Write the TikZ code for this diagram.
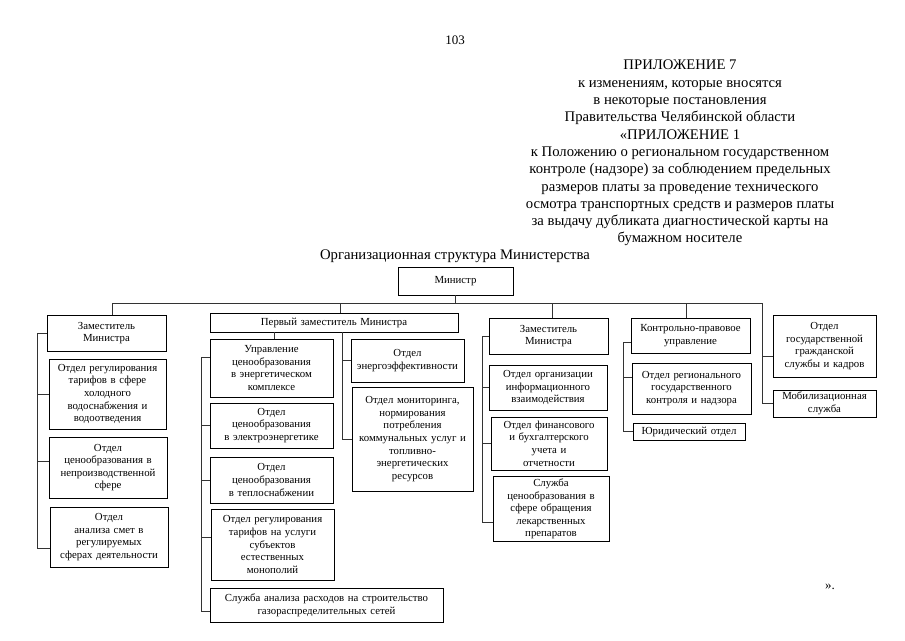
\documentclass[tikz,border=0pt]{standalone}
\usepackage{fontspec}
\setmainfont{Liberation Serif}
\usetikzlibrary{calc}
\tikzset{
  box/.style={draw=black, line width=0.7pt, align=center, inner sep=2pt, font=\fontsize{10.8}{12.6}\selectfont},
  conn/.style={draw=black!80, line width=0.6pt},
  head/.style={align=center, inner sep=0pt, font=\fontsize{14.7}{17.3}\selectfont},
}
\newcommand{\bx}[6]{%
  \pgfmathsetmacro\bxW{#4-#2}\pgfmathsetmacro\bxH{#5-#3}\pgfmathsetmacro\bxT{#4-#2-5}%
  \pgfmathsetmacro\bxX{(#2+#4)/2}\pgfmathsetmacro\bxY{(#3+#5)/2}%
  \node[box, minimum width=\bxW pt, minimum height=\bxH pt, text width=\bxT pt] (#1) at (\bxX,\bxY) {#6};}
\begin{document}
\begin{tikzpicture}[x=1pt,y=-1pt]
\fill[white] (0,0) rectangle (905,640);
\useasboundingbox (0,0) rectangle (905,640);

\node[head, font=\fontsize{13}{15}\selectfont] (pg) at (455,40) {103};
\node[head, anchor=north] (hdr) at (680,60) {ПРИЛОЖЕНИЕ 7\\
к изменениям, которые вносятся\\
в некоторые постановления\\
Правительства Челябинской области\\
«ПРИЛОЖЕНИЕ 1\\
к Положению о региональном государственном\\
контроле (надзоре) за соблюдением предельных\\
размеров платы за проведение технического\\
осмотра транспортных средств и размеров платы\\
за выдачу дубликата диагностической карты на\\
бумажном носителе};
\node[head] (ttl) at (455,256) {Организационная структура Министерства};

\bx{min}{398}{267}{513}{295}{Министр}
\bx{dA}{47}{315}{166}{351}{Заместитель\\Министра}
\bx{a1}{49}{359}{166}{429}{Отдел регулирования\\тарифов в сфере\\холодного\\водоснабжения и\\водоотведения}
\bx{a2}{49}{437}{167}{498}{Отдел\\ценообразования в\\непроизводственной\\сфере}
\bx{a3}{50}{507}{168}{567}{Отдел\\анализа смет в\\регулируемых\\сферах деятельности}
\bx{dB}{210}{313}{458}{332}{Первый заместитель Министра}
\bx{b1}{210}{339}{333}{397}{Управление\\ценообразования\\в энергетическом\\комплексе}
\bx{b2}{210}{403}{333}{448}{Отдел\\ценообразования\\в электроэнергетике}
\bx{b3}{210}{457}{333}{503}{Отдел\\ценообразования\\в теплоснабжении}
\bx{b4}{211}{509}{334}{580}{Отдел регулирования\\тарифов на услуги\\субъектов\\естественных\\монополий}
\bx{b5}{210}{588}{443}{622}{Служба анализа расходов на строительство\\газораспределительных сетей}
\bx{c1}{351}{339}{464}{382}{Отдел\\энергоэффективности}
\bx{c2}{352}{387}{473}{491}{Отдел мониторинга,\\нормирования\\потребления\\коммунальных услуг и\\топливно-\\энергетических\\ресурсов}
\bx{dC}{489}{318}{608}{354}{Заместитель\\Министра}
\bx{e1}{489}{365}{607}{410}{Отдел организации\\информационного\\взаимодействия}
\bx{e2}{491}{417}{607}{470}{Отдел финансового\\и бухгалтерского\\учета и\\отчетности}
\bx{e3}{493}{478}{609}{540}{Служба\\ценообразования в\\сфере обращения\\лекарственных\\препаратов}
\bx{dD}{631}{318}{750}{353}{Контрольно-правовое\\управление}
\bx{f1}{632}{363}{751}{414}{Отдел регионального\\государственного\\контроля и надзора}
\bx{f2}{633}{423}{745}{440}{Юридический отдел}
\bx{g1}{773}{315}{876}{377}{Отдел\\государственной\\гражданской\\службы и кадров}
\bx{g2}{773}{390}{876}{417}{Мобилизационная\\служба}

\node[head, font=\fontsize{13}{15}\selectfont] (end) at (830,587) {».};

% bus
\coordinate (busL) at (112,303);
\coordinate (busR) at (762,303);
\coordinate (bB) at (340,303);
\coordinate (bC) at (552,303);
\coordinate (bD) at (686,303);
\draw[conn] (min.south) -- (min.south |- busL);
\draw[conn] (busL) -- (busR);
\draw[conn] (busL) -- (busL |- dA.north);
\draw[conn] (bB) -- (bB |- dB.north);
\draw[conn] (bC) -- (bC |- dC.north);
\draw[conn] (bD) -- (bD |- dD.north);
\draw[conn] (busR) |- (g2.west);
\coordinate (gy1) at (762,356);
\draw[conn] (gy1) -- (gy1 -| g1.west);

% left column
\coordinate (aL) at (37,548);
\coordinate (a2b) at (37,461);
\draw[conn] (dA.west) -| (aL) -- (aL -| a3.west);
\draw[conn] (aL |- a1.west) -- (a1.west);
\draw[conn] (a2b) -- (a2b -| a2.west);

% first deputy column
\coordinate (bL1) at (201,357);
\coordinate (bL4) at (201,537);
\coordinate (bL5) at (201,611);
\coordinate (bT) at (274,0);
\draw[conn] (bT |- dB.south) -- (bT |- b1.north);
\draw[conn] (bL1 -| b1.west) -- (bL1) -- (bL5) -- (bL5 -| b5.west);
\draw[conn] (bL1 |- b2.west) -- (b2.west);
\draw[conn] (bL1 |- b3.west) -- (b3.west);
\draw[conn] (bL4) -- (bL4 -| b4.west);
\coordinate (cX) at (342,0);
\draw[conn] (cX |- dB.south) -- (cX |- c2.west) -- (c2.west);
\draw[conn] (cX |- c1.west) -- (c1.west);

% middle deputy
\coordinate (eX) at (482,0);
\coordinate (eB) at (482,522);
\draw[conn] (dC.west) -| (eB) -- (eB -| e3.west);
\draw[conn] (eX |- e1.west) -- (e1.west);
\draw[conn] (eX |- e2.west) -- (e2.west);

% control
\coordinate (fT) at (623,342);
\coordinate (f1b) at (623,377);
\draw[conn] (fT -| dD.west) -- (fT) |- (f2.west);
\draw[conn] (f1b) -- (f1b -| f1.west);
\end{tikzpicture}
\end{document}
